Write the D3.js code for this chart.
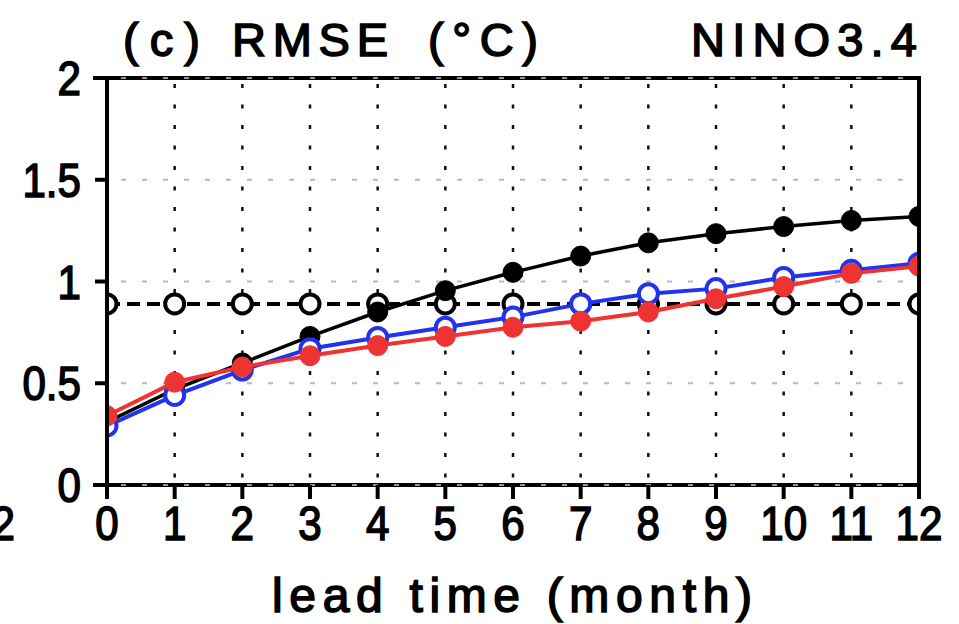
<!DOCTYPE html>
<html>
<head>
<meta charset="utf-8">
<script src="https://cdn.jsdelivr.net/npm/d3@7"></script>
<style>
  html, body { margin: 0; padding: 0; background: #fff; }
  svg { display: block; }
  text { font-family: "Liberation Sans", Arial, sans-serif; font-weight: normal; fill: #000; stroke: #000; stroke-width: 1.6px; }
</style>
</head>
<body>
<svg id="chart" width="959" height="624"></svg>
<script>
// ---- data ----
const leadMonths = [0, 1, 2, 3, 4, 5, 6, 7, 8, 9, 10, 11, 12];
const xTickLabels = ["0", "1", "2", "3", "4", "5", "6", "7", "8", "9", "10", "11", "12"];
const yTicks = [0, 0.5, 1, 1.5, 2];
const yTickLabels = ["0", "0.5", "1", "1.5", "2"];
const refDashed   = [0.89, 0.89, 0.89, 0.89, 0.89, 0.89, 0.89, 0.89, 0.89, 0.89, 0.89, 0.89, 0.89];
const blackSolid  = [0.31, 0.47, 0.60, 0.73, 0.85, 0.955, 1.045, 1.125, 1.19, 1.235, 1.27, 1.30, 1.32];
const blueSeries  = [0.29, 0.44, 0.565, 0.67, 0.725, 0.775, 0.825, 0.89, 0.94, 0.965, 1.02, 1.055, 1.09];
const redSeries   = [0.34, 0.505, 0.58, 0.635, 0.685, 0.73, 0.775, 0.805, 0.85, 0.915, 0.975, 1.04, 1.075];
const titleLeft = ["(c)", "RMSE", "(°C)"];
const titleRight = "NINO3.4";
const xLabel = "lead time (month)";

// ---- layout ----
const svg = d3.select("#chart");
const L = 107, R = 919, T = 78, B = 485;
const x = d3.scaleLinear().domain([0, 12]).range([L, R]);
const y = d3.scaleLinear().domain([0, 2]).range([B, T]);
const SX = 0.86; // horizontal compression of glyphs

svg.append("defs").append("clipPath").attr("id", "plotclip")
  .append("rect").attr("x", L).attr("y", T - 12).attr("width", R - L).attr("height", B - T + 24);

// horizontal grid (light gray dashes)
svg.append("g").selectAll("line").data(yTicks).join("line")
  .attr("x1", L).attr("x2", R)
  .attr("y1", d => y(d)).attr("y2", d => y(d))
  .attr("stroke", "#b8b8b8").attr("stroke-width", 2)
  .attr("stroke-dasharray", "5,16").attr("stroke-dashoffset", -14);

// vertical grid (black dots)
svg.append("g").selectAll("line").data(leadMonths.slice(1, 12)).join("line")
  .attr("x1", d => x(d)).attr("x2", d => x(d))
  .attr("y1", T + 6).attr("y2", B)
  .attr("stroke", "#111").attr("stroke-width", 2.5)
  .attr("stroke-dasharray", "4,16.5");

// axes frame
const ax = svg.append("g").attr("stroke", "#000").attr("stroke-width", 4).attr("stroke-linecap", "square");
ax.append("line").attr("x1", 95).attr("x2", R).attr("y1", B).attr("y2", B);
ax.append("line").attr("x1", 95).attr("x2", R).attr("y1", T).attr("y2", T);
ax.append("line").attr("x1", L).attr("x2", L).attr("y1", T).attr("y2", B);
ax.append("line").attr("x1", R).attr("x2", R).attr("y1", T).attr("y2", B);

// gray grid dashes on top of top/bottom axes
svg.append("g").selectAll("line").data([0, 2]).join("line")
  .attr("x1", L).attr("x2", R)
  .attr("y1", d => y(d)).attr("y2", d => y(d))
  .attr("stroke", "#c8c8c8").attr("stroke-width", 1.5)
  .attr("stroke-dasharray", "5,16").attr("stroke-dashoffset", -14);

// y ticks
svg.append("g").selectAll("line").data(yTicks).join("line")
  .attr("x1", 95).attr("x2", L).attr("y1", d => y(d)).attr("y2", d => y(d))
  .attr("stroke", "#000").attr("stroke-width", 4);
// x ticks
svg.append("g").selectAll("line").data(leadMonths).join("line")
  .attr("x1", d => x(d)).attr("x2", d => x(d)).attr("y1", B).attr("y2", 499)
  .attr("stroke", "#000").attr("stroke-width", 4);

// tick labels (compressed glyphs)
svg.append("g").selectAll("text").data(leadMonths).join("text")
  .attr("transform", d => `translate(${x(d)},540) scale(${SX},1)`)
  .attr("text-anchor", "middle")
  .attr("font-size", 49).text((d, i) => xTickLabels[i]);
svg.append("g").selectAll("text").data(yTicks).join("text")
  .attr("transform", d => `translate(81,${y(d) + 17}) scale(${SX},1)`)
  .attr("text-anchor", "end")
  .attr("font-size", 49).text((d, i) => yTickLabels[i]);

// neighbour panel fragment at left edge
svg.append("text").attr("transform", `translate(15,540) scale(${SX},1)`).attr("text-anchor", "end")
  .attr("font-size", 49).text("12");

// titles
const tpos = [[123, 77], [232, 156], [428, 110]];
titleLeft.forEach((t, i) => {
  svg.append("text").attr("x", tpos[i][0]).attr("y", 56).attr("font-size", 47)
    .attr("textLength", tpos[i][1]).attr("lengthAdjust", "spacing").text(t);
});
svg.append("text").attr("x", 691).attr("y", 56).attr("font-size", 47)
  .attr("textLength", 226).attr("lengthAdjust", "spacing").text(titleRight);
svg.append("text").attr("x", 272).attr("y", 612).attr("font-size", 48)
  .attr("textLength", 480).attr("lengthAdjust", "spacing").text(xLabel);

// series
const plot = svg.append("g").attr("clip-path", "url(#plotclip)");
const line = d3.line().x((d, i) => x(leadMonths[i])).y(d => y(d));

function series(vals, color, dashed, filled, sw, r) {
  const g = plot.append("g");
  g.append("path").datum(vals).attr("d", line).attr("fill", "none")
    .attr("stroke", color).attr("stroke-width", sw)
    .attr("stroke-dasharray", dashed ? "13,7" : null);
  g.selectAll("circle").data(vals).join("circle")
    .attr("cx", (d, i) => x(leadMonths[i])).attr("cy", d => y(d)).attr("r", r)
    .attr("fill", filled ? color : "#fff").attr("stroke", color).attr("stroke-width", filled ? 1 : 4);
}
series(refDashed, "#000", true, false, 4, 9.5);
series(blackSolid, "#000", false, true, 3.5, 10);
series(blueSeries, "#2233ee", false, false, 4, 9.5);
series(redSeries, "#ee3333", false, true, 4, 10);

// redraw frame left/right on top of clipped markers
svg.append("line").attr("x1", L).attr("x2", L).attr("y1", T).attr("y2", B).attr("stroke", "#000").attr("stroke-width", 4);
svg.append("line").attr("x1", R).attr("x2", R).attr("y1", T).attr("y2", B).attr("stroke", "#000").attr("stroke-width", 4);
</script>
</body>
</html>
